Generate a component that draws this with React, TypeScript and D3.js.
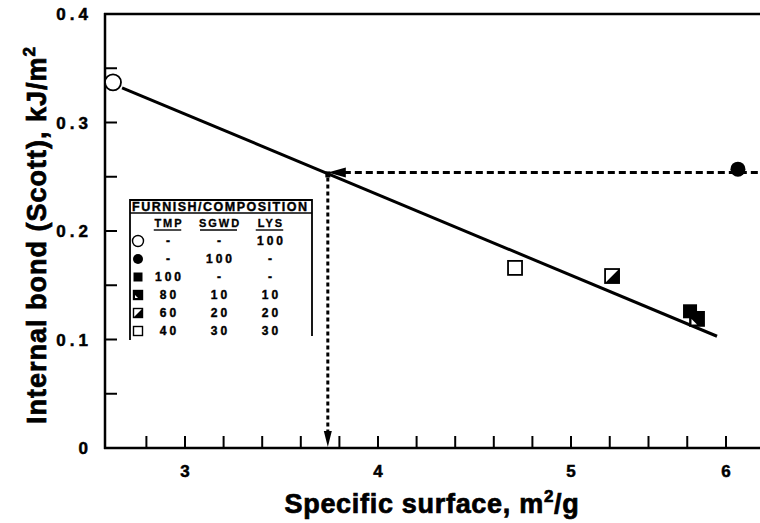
import React from "react";
import * as d3 from "d3";

// ---- data ----
const xLabelValues = [3, 4, 5, 6];
const xLabelTexts = ["3", "4", "5", "6"];
// axis calibration as printed (the 5–6 interval is shorter on the original figure)
const xCalibValues = [3, 4, 5, 6];
const xMinorTicks = [2.8, 3, 3.2, 3.4, 3.6, 3.8, 4, 4.2, 4.4, 4.6, 4.8, 5, 5.25, 5.5, 5.75, 6];
const yLabelValues = [0, 0.1, 0.2, 0.3, 0.4];
const yLabelTexts = ["0", "0.1", "0.2", "0.3", "0.4"];
const yMinorTicks = [0.05, 0.1, 0.15, 0.2, 0.25, 0.3, 0.35];

const furnishKeys = ["lys100", "sgwd100", "tmp100", "tmp80", "tmp60", "tmp40"];
const surfaceValues = [2.627, 6.077, 5.768, 5.813, 5.265, 4.71];
const bondValues = [0.337, 0.257, 0.126, 0.119, 0.1585, 0.166];

const legendTMP = ["-", "-", "100", "80", "60", "40"];
const legendSGWD = ["-", "100", "-", "10", "20", "30"];
const legendLYS = ["100", "-", "-", "10", "20", "30"];

const fitSurface = [2.674, 5.942];
const fitBond = [0.332, 0.103];

const readSurface = 3.74;
const readBond = 0.254;

const FONT = "'Liberation Sans', Arial, Helvetica, sans-serif";

function Symbol({ kind, cx, cy, s }: { kind: string; cx: number; cy: number; s: number }) {
  const h = s / 2;
  const sw = s > 10 ? 1.8 : 1.4;
  if (kind === "lys100")
    return <circle cx={cx} cy={cy} r={h + 1} fill="#fff" stroke="#000" strokeWidth={sw} />;
  if (kind === "sgwd100") return <circle cx={cx} cy={cy} r={h + 0.5} fill="#000" />;
  if (kind === "tmp100") return <rect x={cx - h} y={cy - h} width={s} height={s} fill="#000" />;
  if (kind === "tmp40")
    return (
      <rect x={cx - h} y={cy - h} width={s} height={s} fill="#fff" stroke="#000" strokeWidth={sw} />
    );
  if (kind === "tmp60")
    return (
      <g>
        <rect x={cx - h} y={cy - h} width={s} height={s} fill="#fff" stroke="#000" strokeWidth={sw} />
        <path d={`M${cx + h},${cy - h}L${cx + h},${cy + h}L${cx - h},${cy + h}Z`} fill="#000" />
      </g>
    );
  // tmp80: mostly black with white lower-left notch
  return (
    <g>
      <rect x={cx - h} y={cy - h} width={s} height={s} fill="#000" stroke="#000" strokeWidth={sw} />
      <path
        d={`M${cx - h + 1.5},${cy + h - 1.5}L${cx - h + 1.5},${cy}L${cx},${cy + h - 1.5}Z`}
        fill="#fff"
      />
    </g>
  );
}

export default function App() {
  const W = 760;
  const H = 523;
  const x = d3.scaleLinear().domain(xCalibValues).range([185, 378, 571, 726]);
  const y = d3.scaleLinear().domain([0, 0.4]).range([448, 14]);
  const left = 105;
  const right = W;
  const y0 = y(0);
  const yTop = y(0.4);

  const fitLine = d3
    .line<number>()
    .x((d, i) => x(fitSurface[i]))
    .y((d, i) => y(fitBond[i]))(fitSurface as any) as string;

  const ax = x(readSurface);
  const ay = y(readBond);

  const legX = 130;
  const legY = 200;
  const legW = 182;
  const rowY = [245, 263, 281, 299, 317, 335];
  const colX = [168, 219, 270];

  return (
    <svg
      width={W}
      height={H}
      style={{ position: "absolute", left: 0, top: 0, background: "#fff" }}
      fontFamily={FONT}
      fontWeight="bold"
    >
      <rect width={W} height={H} fill="#fff" />
      {/* frame */}
      <line x1={left} x2={left} y1={yTop - 1} y2={y0 + 1} stroke="#000" strokeWidth={2.5} />
      <line x1={left - 1} x2={right} y1={yTop} y2={yTop} stroke="#000" strokeWidth={2.5} />
      <line x1={left - 1} x2={right} y1={y0} y2={y0} stroke="#000" strokeWidth={2.5} />

      {/* x ticks */}
      {xMinorTicks.map((v) => (
        <line key={"xt" + v} x1={x(v)} x2={x(v)} y1={y0} y2={y0 - 12} stroke="#000" strokeWidth={2} />
      ))}
      {xLabelValues.map((v, i) => (
        <text
          key={"xl" + v}
          x={x(v)}
          y={477}
          fontSize={17}
          textAnchor="middle"
          stroke="#000"
          strokeWidth={0.5}
        >
          {xLabelTexts[i]}
        </text>
      ))}

      {/* y ticks */}
      {yMinorTicks.map((v) => (
        <line key={"yt" + v} x1={left} x2={left + 12} y1={y(v)} y2={y(v)} stroke="#000" strokeWidth={2} />
      ))}
      {yLabelValues.map((v, i) => (
        <text
          key={"yl" + v}
          x={92}
          y={y(v) + 6}
          fontSize={17}
          textAnchor="end"
          letterSpacing={4}
          stroke="#000"
          strokeWidth={0.5}
        >
          {yLabelTexts[i]}
        </text>
      ))}

      {/* axis titles */}
      <text
        x={432}
        y={513}
        fontSize={27}
        textAnchor="middle"
        letterSpacing={0.7}
        stroke="#000"
        strokeWidth={0.7}
      >
        Specific surface, m
        <tspan fontSize={17} dy={-11}>
          2
        </tspan>
        <tspan dy={11}>/g</tspan>
      </text>
      <text
        transform={`translate(46,235) rotate(-90)`}
        fontSize={27}
        textAnchor="middle"
        letterSpacing={1}
        stroke="#000"
        strokeWidth={0.7}
      >
        Internal bond (Scott), kJ/m
        <tspan fontSize={17} dy={-11}>
          2
        </tspan>
      </text>

      {/* regression line */}
      <path d={fitLine} fill="none" stroke="#000" strokeWidth={3} />

      {/* read-off dashed lines */}
      <line x1={ax + 16} x2={right} y1={ay} y2={ay} stroke="#000" strokeWidth={3} strokeDasharray="7 4" />
      <path d={`M${ax},${ay}L${ax + 18},${ay - 5}L${ax + 18},${ay + 5}Z`} fill="#000" />
      <rect x={ax - 2.5} y={ay - 1} width={5} height={6} fill="#000" />
      <line x1={ax} x2={ax} y1={ay + 5} y2={y0 - 15} stroke="#000" strokeWidth={3} strokeDasharray="4 3" />
      <path d={`M${ax},${y0 - 1}L${ax - 4},${y0 - 17}L${ax + 4},${y0 - 17}Z`} fill="#000" />

      {/* data points */}
      {furnishKeys.map((k, i) => (
        <Symbol key={k} kind={k} cx={x(surfaceValues[i])} cy={y(bondValues[i])} s={14} />
      ))}

      {/* legend */}
      <g>
        <path
          d={`M${legX},${legY + 140}L${legX},${legY}L${legX + legW},${legY}L${legX + legW},${legY + 136}`}
          fill="none"
          stroke="#000"
          strokeWidth={1.8}
        />
        <line x1={legX} x2={legX + legW} y1={legY + 13} y2={legY + 13} stroke="#000" strokeWidth={1.5} />
        <text x={legX + 2} y={legY + 11} fontSize={12.5} letterSpacing={1.5} stroke="#000" strokeWidth={0.4}>
          FURNISH/COMPOSITION
        </text>
        {["TMP", "SGWD", "LYS"].map((t, i) => (
          <g key={t}>
            <text
              x={colX[i] + 1}
              y={227}
              fontSize={11}
              textAnchor="middle"
              letterSpacing={2}
              stroke="#000"
              strokeWidth={0.3}
            >
              {t}
            </text>
            <line
              x1={colX[i] - (t.length * 9.5) / 2}
              x2={colX[i] + (t.length * 9.5) / 2 - 1}
              y1={230}
              y2={230}
              stroke="#000"
              strokeWidth={1.4}
            />
          </g>
        ))}
        {furnishKeys.map((k, i) => (
          <g key={"lg" + k}>
            <Symbol kind={k} cx={138} cy={rowY[i] - 4} s={9} />
            {[legendTMP[i], legendSGWD[i], legendLYS[i]].map((t, j) => (
              <text
                key={j}
                x={colX[j] + 1.5}
                y={rowY[i]}
                fontSize={12}
                textAnchor="middle"
                letterSpacing={3}
                stroke="#000"
                strokeWidth={0.4}
              >
                {t}
              </text>
            ))}
          </g>
        ))}
      </g>
    </svg>
  );
}
